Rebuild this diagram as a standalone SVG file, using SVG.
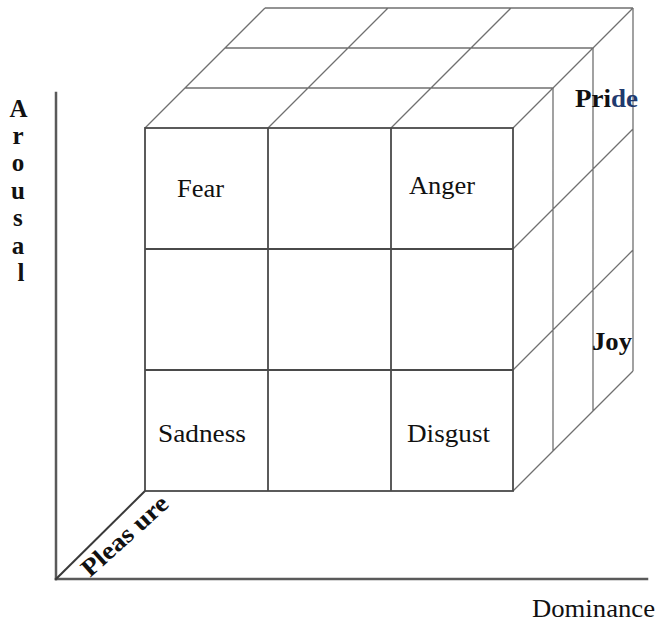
<svg xmlns="http://www.w3.org/2000/svg" width="661" height="627" viewBox="0 0 661 627">
  <style>
    .axis { stroke: #5a5a5a; stroke-width: 2.5; fill: none; stroke-linecap: square; }
    .front { stroke: #4a4a4a; stroke-width: 1.8; fill: none; }
    .back { stroke: #707070; stroke-width: 1.3; fill: none; }
    .lbl { font-family: "Liberation Serif", "Times New Roman", serif; font-size: 25px; fill: #111; }
    .bold { font-weight: bold; }
  </style>
  <rect width="661" height="627" fill="#ffffff"/>

  <g id="connectors">
    <line class="axis" x1="56" y1="93" x2="56" y2="579"/>
    <line class="axis" x1="56" y1="579" x2="647" y2="579"/>
    <line class="axis" x1="56" y1="579" x2="145" y2="491" style="stroke:#3a3a3a;stroke-width:2"/>
  </g>

  <g id="cube-top">
    <path class="back" d="M265,8 H633 M225,48 H593 M185,88 H553 M145,128 L265,8 M268,128 L388,8 M391,128 L511,8 M513,128 L633,8"/>
  </g>
  <g id="cube-right">
    <path class="back" d="M553,88 V451 M593,48 V411 M633,8 V371 M513,249 L633,129 M513,370 L633,250 M513,491 L633,371"/>
  </g>
  <g id="cube-front">
    <rect class="front" x="145" y="128" width="368" height="363"/>
    <path class="front" d="M268,128 V491 M391,128 V491 M145,249 H513 M145,370 H513"/>
  </g>

  <g id="fear"><text class="lbl" x="177" y="197" textLength="47" lengthAdjust="spacingAndGlyphs">Fear</text></g>
  <g id="anger"><text class="lbl" x="409" y="194" textLength="66" lengthAdjust="spacingAndGlyphs">Anger</text></g>
  <g id="sadness"><text class="lbl" x="158" y="442" textLength="88" lengthAdjust="spacingAndGlyphs">Sadness</text></g>
  <g id="disgust"><text class="lbl" x="407" y="442" textLength="83" lengthAdjust="spacingAndGlyphs">Disgust</text></g>
  <g id="pride"><text class="lbl bold" x="575" y="107" textLength="63" lengthAdjust="spacingAndGlyphs">Pri<tspan fill="#1f3a6e">de</tspan></text></g>
  <g id="joy"><text class="lbl bold" x="592" y="350" textLength="40" lengthAdjust="spacingAndGlyphs">Joy</text></g>

  <g id="arousal">
    <text class="lbl bold" text-anchor="middle" font-size="23">
      <tspan x="21" y="117">A</tspan>
      <tspan x="21" y="144">r</tspan>
      <tspan x="21" y="171">o</tspan>
      <tspan x="21" y="199">u</tspan>
      <tspan x="21" y="226">s</tspan>
      <tspan x="21" y="254">a</tspan>
      <tspan x="21" y="281">l</tspan>
    </text>
  </g>
  <g id="pleasure">
    <text class="lbl bold" x="0" y="0" font-size="23" transform="translate(90,578) rotate(-42)" textLength="108" lengthAdjust="spacingAndGlyphs">Pleas ure</text>
  </g>
  <g id="dominance"><text class="lbl" x="532" y="617" textLength="123" lengthAdjust="spacingAndGlyphs">Dominance</text></g>
</svg>
